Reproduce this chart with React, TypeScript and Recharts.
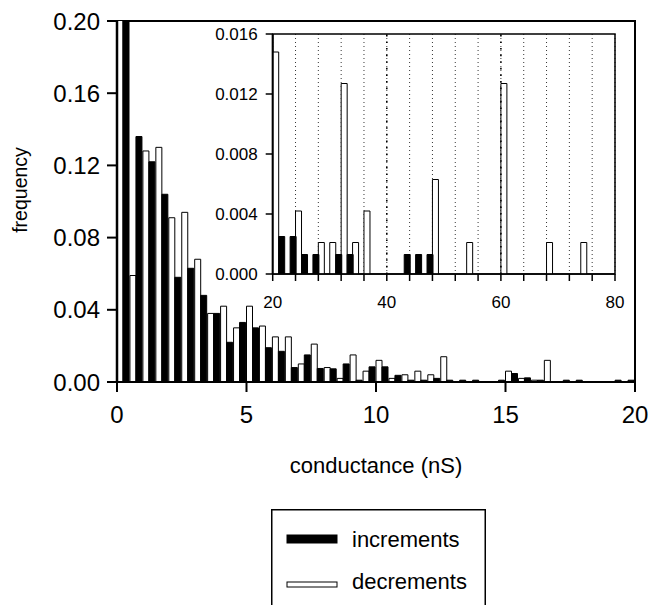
import React from "react";
import {
  BarChart,
  Bar,
  XAxis,
  YAxis,
  CartesianGrid,
  ReferenceArea,
  ReferenceLine,
  Label,
} from "recharts";

// main histogram, 0.5 nS bins
const mainBins = [
  0, 0.5, 1, 1.5, 2, 2.5, 3, 3.5, 4, 4.5, 5, 5.5, 6, 6.5, 7, 7.5, 8, 8.5, 9, 9.5,
  10, 10.5, 11, 11.5, 12, 12.5, 13, 13.5, 14, 14.5, 15, 15.5, 16, 16.5, 17, 17.5,
  18, 18.5, 19, 19.5,
];
const mainDecrements = [
  0.24, 0.059, 0.128, 0.13, 0.091, 0.094, 0.068, 0.038, 0.042, 0.03, 0.042,
  0.031, 0.025, 0.025, 0.01, 0.021, 0.008, 0.002, 0.015, 0.006, 0.012, 0.002,
  0.004, 0.006, 0.004, 0.014, 0, 0, 0, 0, 0.006, 0.002, 0.001, 0.012, 0, 0, 0,
  0, 0, 0,
];
const mainIncrements = [
  0.31, 0.136, 0.122, 0.104, 0.058, 0.063, 0.048, 0.038, 0.022, 0.033, 0.03,
  0.019, 0.017, 0.008, 0.015, 0.0075, 0.0073, 0.01, 0.001, 0.0084, 0.0084,
  0.0037, 0.001, 0.001, 0.002, 0.001, 0.001, 0.001, 0, 0.001, 0.0047, 0.0023,
  0.001, 0, 0.001, 0.001, 0, 0, 0.001, 0.001,
];
const mainXTicks = [0, 5, 10, 15, 20];
const mainYTicks = [0, 0.04, 0.08, 0.12, 0.16, 0.2];

// inset, 2 nS bins from 20 to 80
const insetBins = [
  20, 22, 24, 26, 28, 30, 32, 34, 36, 38, 40, 42, 44, 46, 48, 50, 52, 54, 56, 58,
  60, 62, 64, 66, 68, 70, 72, 74, 76, 78,
];
const insetDecrements = [
  0.0148, 0, 0.0042, 0, 0.0021, 0.0021, 0.0127, 0.0021, 0.0042, 0, 0, 0, 0, 0,
  0.0063, 0, 0, 0.0021, 0, 0, 0.0127, 0, 0, 0, 0.0021, 0, 0, 0.0021, 0, 0,
];
const insetIncrements = [
  0.0025, 0.0025, 0.0013, 0.0013, 0, 0.0013, 0.0013, 0, 0, 0, 0, 0.0013, 0.0013,
  0.0013, 0, 0, 0, 0, 0, 0, 0, 0, 0, 0, 0, 0, 0, 0, 0, 0,
];
const insetXTicks = [20, 24, 28, 32, 36, 40, 44, 48, 52, 56, 60, 64, 68, 72, 76, 80];
const insetYTicks = [0, 0.004, 0.008, 0.012, 0.016];

const mainData = mainBins.map((bin, i) => ({
  bin,
  dec: mainDecrements[i],
  inc: mainIncrements[i],
}));
const insetData = insetBins.map((bin, i) => ({
  bin,
  dec: insetDecrements[i],
  inc: insetIncrements[i],
}));

const FONT = "'Liberation Sans', Arial, Helvetica, sans-serif";

const insetTick = (props: any) => {
  const { x, y, payload } = props;
  if (payload.value % 20 !== 0) return <g />;
  return (
    <text x={x} y={y} dy="0.71em" textAnchor="middle" fontSize={17} fill="#000">
      {payload.value}
    </text>
  );
};

export default function App() {
  return (
    <div
      style={{
        position: "absolute",
        left: 0,
        top: 0,
        width: 648,
        height: 605,
        background: "#fff",
        fontFamily: FONT,
      }}
    >
      <div style={{ position: "absolute", left: 0, top: 0 }}>
        <BarChart
          width={648}
          height={480}
          data={mainData}
          margin={{ top: 21, right: 13, left: 0, bottom: 0 }}
          barGap={0}
          barCategoryGap={0}
        >
          <XAxis xAxisId="bin" dataKey="bin" hide height={0} />
          <XAxis
            xAxisId="num"
            type="number"
            dataKey="bin"
            domain={[0, 20]}
            ticks={mainXTicks}
            allowDataOverflow
            height={98}
            tickSize={10}
            tickMargin={14}
            axisLine={{ stroke: "#000", strokeWidth: 2 }}
            tickLine={{ stroke: "#000", strokeWidth: 2 }}
            tick={{ fontSize: 24, fill: "#000" }}
          >
            <Label
              value="conductance (nS)"
              position="insideBottom"
              offset={7}
              fontSize={22}
              fill="#000"
            />
          </XAxis>
          <YAxis
            domain={[0, 0.2]}
            ticks={mainYTicks}
            allowDataOverflow
            width={117}
            tickSize={10}
            tickMargin={7}
            tickFormatter={(v: number) => v.toFixed(2)}
            axisLine={{ stroke: "#000", strokeWidth: 2.5 }}
            tickLine={{ stroke: "#000", strokeWidth: 2 }}
            tick={{ fontSize: 24, fill: "#000" }}
          >
            <Label
              content={() => (
                <text
                  x={20}
                  y={190}
                  transform="rotate(-90 20 190)"
                  textAnchor="middle"
                  dominantBaseline="central"
                  fontSize={19.5}
                  fill="#000"
                >
                  frequency
                </text>
              )}
            />
          </YAxis>
          <Bar
            xAxisId="bin"
            dataKey="dec"
            name="decrements"
            fill="#fff"
            stroke="#000"
            strokeWidth={1}
            isAnimationActive={false}
          />
          <Bar
            xAxisId="bin"
            dataKey="inc"
            name="increments"
            fill="#000"
            stroke="#000"
            strokeWidth={1}
            isAnimationActive={false}
          />
          <ReferenceArea
            xAxisId="num"
            x1={0}
            x2={20}
            y1={0}
            y2={0.2}
            fill="none"
            fillOpacity={0}
            stroke="#000"
            strokeWidth={2}
          />
        </BarChart>
      </div>

      <div style={{ position: "absolute", left: 200, top: 20 }}>
        <BarChart
          width={430}
          height={300}
          data={insetData}
          margin={{ top: 14, right: 15, left: 0, bottom: 0 }}
          barGap={0}
          barCategoryGap={0}
        >
          <CartesianGrid
            xAxisId="num"
            horizontal={false}
            stroke="#000"
            strokeWidth={0.8}
            strokeDasharray="1 3"
          />
          <XAxis xAxisId="bin" dataKey="bin" hide height={0} />
          <XAxis
            xAxisId="num"
            type="number"
            dataKey="bin"
            domain={[20, 80]}
            ticks={insetXTicks}
            allowDataOverflow
            height={46}
            tickSize={7}
            tickMargin={15}
            axisLine={{ stroke: "#000", strokeWidth: 1.5 }}
            tickLine={{ stroke: "#000", strokeWidth: 1.5 }}
            tick={insetTick}
          />
          <YAxis
            domain={[0, 0.016]}
            ticks={insetYTicks}
            allowDataOverflow
            width={72.7}
            tickSize={7}
            tickMargin={8}
            tickFormatter={(v: number) => v.toFixed(3)}
            axisLine={{ stroke: "#000", strokeWidth: 2 }}
            tickLine={{ stroke: "#000", strokeWidth: 1.5 }}
            tick={{ fontSize: 17, fill: "#000" }}
          />
          <ReferenceLine
            xAxisId="num"
            x={40}
            stroke="#000"
            strokeWidth={1.6}
            strokeDasharray="1.6 5"
          />
          <ReferenceLine
            xAxisId="num"
            x={60}
            stroke="#000"
            strokeWidth={1.6}
            strokeDasharray="1.6 5"
          />
          <Bar
            xAxisId="bin"
            dataKey="dec"
            name="decrements"
            fill="#fff"
            stroke="#000"
            strokeWidth={1}
            isAnimationActive={false}
          />
          <Bar
            xAxisId="bin"
            dataKey="inc"
            name="increments"
            fill="#000"
            stroke="#000"
            strokeWidth={1}
            isAnimationActive={false}
          />
          <ReferenceArea
            xAxisId="num"
            x1={20}
            x2={80}
            y1={0}
            y2={0.016}
            fill="none"
            fillOpacity={0}
            stroke="#000"
            strokeWidth={1.5}
          />
        </BarChart>
      </div>

      <svg
        style={{ position: "absolute", left: 271, top: 509 }}
        width={215}
        height={96}
      >
        <rect x={0.75} y={0.75} width={213.5} height={110} fill="#fff" stroke="#000" strokeWidth={1.5} />
        <rect x={16} y={26} width={50} height={8} fill="#000" stroke="#000" />
        <text x={81} y={30} dominantBaseline="central" fontSize={22} fill="#000">
          increments
        </text>
        <rect x={16} y={73} width={50} height={5} fill="#fff" stroke="#000" />
        <text x={81} y={72} dominantBaseline="central" fontSize={22} fill="#000">
          decrements
        </text>
      </svg>
    </div>
  );
}
